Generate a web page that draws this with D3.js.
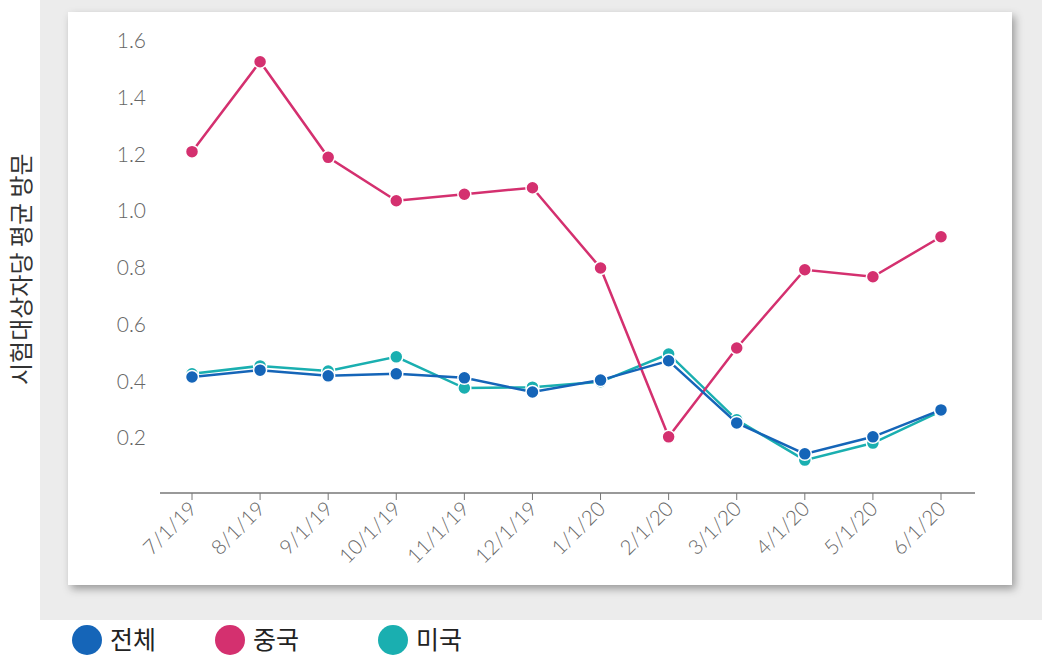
<!DOCTYPE html><html><head><meta charset="utf-8">
<script src="https://cdn.jsdelivr.net/npm/d3@7"></script>
<style>body{margin:0;background:#fff}svg{font-family:"Noto Sans CJK KR","Noto Sans",sans-serif}</style></head><body>
<svg id="c" width="1042" height="659"></svg>
<script>
const categories=["7/1/19","8/1/19","9/1/19","10/1/19","11/1/19","12/1/19","1/1/20","2/1/20","3/1/20","4/1/20","5/1/20","6/1/20"];
const total=[0.416,0.44,0.42,0.427,0.413,0.363,0.405,0.473,0.254,0.145,0.205,0.30];
const china=[1.21,1.527,1.19,1.037,1.06,1.083,0.80,0.205,0.518,0.794,0.769,0.91];
const us=[0.427,0.455,0.437,0.487,0.377,0.38,0.399,0.497,0.265,0.123,0.183,0.296];
const yTicks=[0.2,0.4,0.6,0.8,1.0,1.2,1.4,1.6];
const seriesNames=["전체","중국","미국"];
const colors=["#1565b8","#d4306f","#1aafb0"];
const svg=d3.select("#c");
const defs=svg.append("defs");
const f=defs.append("filter").attr("id","sh").attr("x","-5%").attr("y","-5%").attr("width","110%").attr("height","112%");
f.append("feDropShadow").attr("dx",3).attr("dy",4).attr("stdDeviation",4).attr("flood-color","#000").attr("flood-opacity",0.35);
svg.append("rect").attr("x",40).attr("y",0).attr("width",1002).attr("height",620).attr("fill","#ececec");
svg.append("rect").attr("x",68).attr("y",12).attr("width",944).attr("height",573).attr("fill","#fff").attr("filter","url(#sh)");
const x=d3.scalePoint().domain(categories).range([192,941]);
const y=d3.scaleLinear().domain([0,1.6]).range([495,41]);
svg.append("line").attr("x1",160).attr("x2",975).attr("y1",493).attr("y2",493).attr("stroke","#777").attr("stroke-width",1.5);
svg.selectAll(".yt").data(yTicks).join("text").attr("x",146).attr("y",d=>y(d)+7).attr("text-anchor","end")
 .attr("font-size",21).attr("fill","#666").attr("font-family","Lato,sans-serif").attr("font-weight",300).text(d=>d.toFixed(1));
svg.selectAll(".xtl").data(categories).join("line").attr("x1",d=>x(d)).attr("x2",d=>x(d)).attr("y1",493).attr("y2",500).attr("stroke","#777");
svg.selectAll(".xt").data(categories).join("text").attr("transform",d=>`translate(${x(d)+6},${510}) rotate(-45)`)
 .attr("text-anchor","end").attr("font-size",20.5).attr("fill","#666").attr("font-family","Lato,sans-serif").attr("font-weight",300).text(d=>d);
const line=d3.line().x((d,i)=>x(categories[i])).y(d=>y(d));
[[us,2],[china,1],[total,0]].forEach(([s,ci])=>{
 svg.append("path").attr("d",line(s)).attr("fill","none").attr("stroke",colors[ci]).attr("stroke-width",2.5);
 svg.selectAll(null).data(s).join("circle").attr("cx",(d,i)=>x(categories[i])).attr("cy",d=>y(d)).attr("r",6.5)
  .attr("fill",colors[ci]).attr("stroke","#fff").attr("stroke-width",1.5);
});
svg.append("text").attr("transform","translate(30,385) rotate(-90)").attr("font-size",24).attr("fill","#333").text("시험대상자당 평균 방문");
const lx=[87,230,393];
seriesNames.forEach((n,i)=>{
 svg.append("circle").attr("cx",lx[i]).attr("cy",640).attr("r",15).attr("fill",colors[i]);
 svg.append("text").attr("x",lx[i]+23).attr("y",649).attr("font-size",25).attr("fill","#222").text(n);
});
</script></body></html>
